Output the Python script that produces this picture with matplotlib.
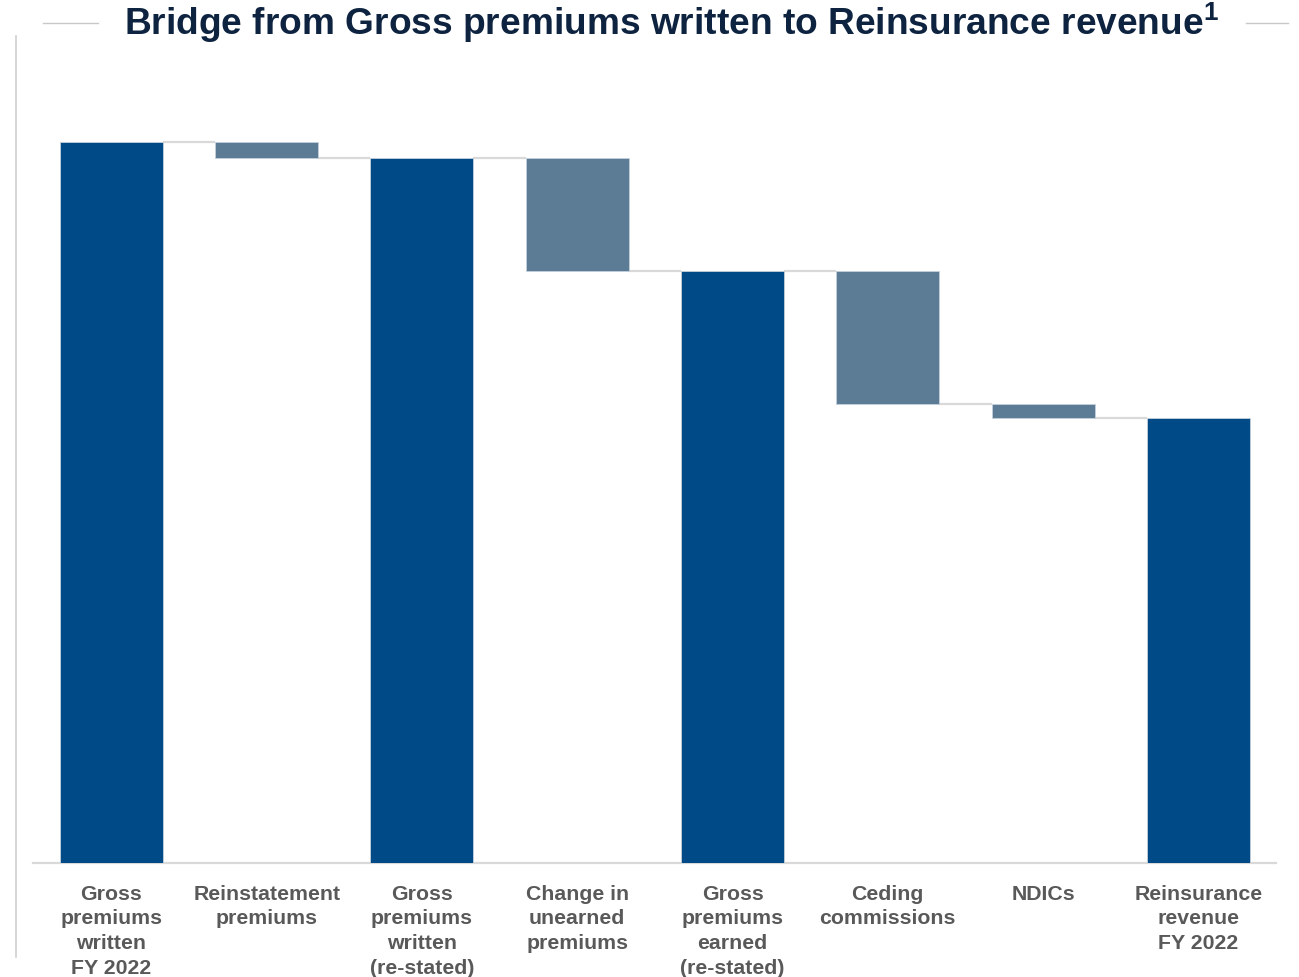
import numpy as np
import matplotlib.pyplot as plt
from matplotlib.lines import Line2D

plt.rcParams['font.family'] = ['Liberation Sans', 'DejaVu Sans']
plt.rcParams['mathtext.fontset'] = 'custom'
plt.rcParams['mathtext.rm'] = 'Liberation Sans:bold'
plt.rcParams['mathtext.bf'] = 'Liberation Sans:bold'

# Brücke in Mrd. EUR (Totals und Veränderungen)
labels = [
    "Gross\npremiums\nwritten\nFY 2022",
    "Reinstatement\npremiums",
    "Gross\npremiums\nwritten\n(re-stated)",
    "Change in\nunearned\npremiums",
    "Gross\npremiums\nearned\n(re-stated)",
    "Ceding\ncommissions",
    "NDICs",
    "Reinsurance\nrevenue\nFY 2022",
]
values = [33.30, -0.74, 32.56, -5.23, 27.33, -6.10, -0.69, 20.54]
is_total = [True, False, True, False, True, False, False, True]

col_total = "#004a87"
col_step = "#5b7c94"
col_conn = "#d9d9d9"

bottoms = []
heights = []
level = 0.0
for v, tot in zip(values, is_total):
    if tot:
        bottoms.append(0.0)
        heights.append(v)
        level = v
    else:
        new_level = level + v
        bottoms.append(min(level, new_level))
        heights.append(abs(v))
        level = new_level

fig = plt.figure(figsize=(12.99, 9.78), dpi=100)
ax = fig.add_axes([0.0254, 0.1166, 0.9569, 0.842])

x = np.arange(len(values))
w = 0.663
colors = [col_total if t else col_step for t in is_total]
ax.bar(x, heights, bottom=bottoms, width=w, color=colors,
       edgecolor="#c5d0da", linewidth=0.6, zorder=3)

# Verbindungslinien zwischen den Balken
level = 0.0
for i, (v, tot) in enumerate(zip(values, is_total)):
    level = v if tot else level + v
    if i < len(values) - 1:
        ax.hlines(level, x[i] + w / 2, x[i + 1] - w / 2,
                  color=col_conn, lw=1.6, zorder=2)

ax.set_xlim(-0.505, 7.5)
ax.set_ylim(0, 38.05)
ax.set_yticks([])
for s in ["top", "right", "left"]:
    ax.spines[s].set_visible(False)
ax.spines["bottom"].set_color(col_conn)
ax.spines["bottom"].set_linewidth(1.6)

ax.set_xticks(x)
ax.set_xticklabels(labels, fontsize=15.3, fontweight="bold", color="#595959",
                   linespacing=1.38)
ax.tick_params(axis="x", length=0, pad=15)

fig.text(0.517, 0.977,
         r"Bridge from Gross premiums written to Reinsurance revenue$^\mathbf{1}$",
         ha="center", va="center", fontsize=26.7, fontweight="bold",
         color="#0d2340")

# Dekorative Linien
fig.add_artist(Line2D([43 / 1299, 98 / 1299], [1 - 24 / 978] * 2,
                      color="#c8c8c8", lw=1.0))
fig.add_artist(Line2D([1246 / 1299, 1288 / 1299], [1 - 24 / 978] * 2,
                      color="#c8c8c8", lw=1.0))
fig.add_artist(Line2D([15.5 / 1299] * 2, [1 - 37 / 978, 1 - 958 / 978],
                      color="#d0d0d0", lw=1.2))

fig.savefig("out.png", dpi=100)
